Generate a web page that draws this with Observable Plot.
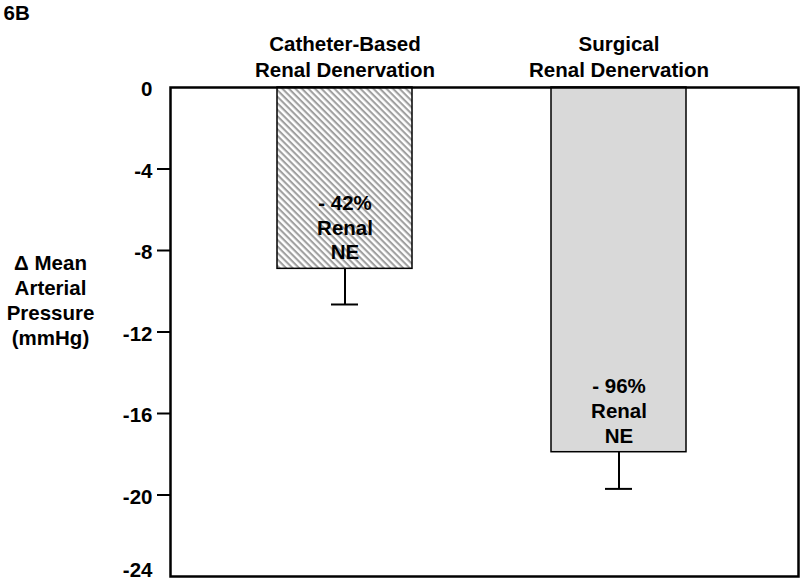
<!DOCTYPE html>
<html>
<head>
<meta charset="utf-8">
<script src="https://cdn.jsdelivr.net/npm/d3@7"></script>
<script src="https://cdn.jsdelivr.net/npm/@observablehq/plot@0.6"></script>
<style>
  html, body { margin: 0; padding: 0; background: white; }
  #chart { width: 800px; height: 581px; }
</style>
</head>
<body>
<div id="chart"></div>
<script>
const categories = ["Catheter-Based\nRenal Denervation", "Surgical\nRenal Denervation"];
const meanChange = [-8.9, -17.9];
const sem = [1.75, 1.8];
const barLabels = ["- 42%\nRenal\nNE", "- 96%\nRenal\nNE"];
const fills = ["url(#hatch)", "#d9d9d9"];
const yTicks = [0, -4, -8, -12, -16, -20];
const yTickLines = [-4, -8, -12, -16, -20];
const lastTick = [-24];
const panelLabel = "6B";
const yLabel = "Δ Mean\nArterial\nPressure\n(mmHg)";

const data = categories.map((c, i) => ({
  cat: c, value: meanChange[i], err: meanChange[i] - sem[i], label: barLabels[i], fill: fills[i]
}));

const font = "'Liberation Sans', Arial, Helvetica, sans-serif";

const chart = Plot.plot({
  width: 800,
  height: 581,
  marginTop: 87,
  marginLeft: 170,
  marginRight: 2,
  marginBottom: 5,
  style: { fontFamily: font, fontSize: "20px", fontWeight: "bold", background: "white", overflow: "visible", color: "black" },
  x: { domain: categories, range: [170, 792], padding: 0.509, paddingOuter: 0.3855, axis: null },
  y: { domain: [-24, 0], axis: null },
  marks: [
    Plot.barY(data, { x: "cat", y1: 0, y2: "value", fill: "fill", stroke: "black", strokeWidth: 1.5 }),
    Plot.ruleX(data, { x: "cat", y1: "value", y2: "err", stroke: "black", strokeWidth: 2 }),
    Plot.tickY(data, { x: "cat", y: "err", stroke: "black", strokeWidth: 2, insetLeft: 54, insetRight: 54 }),
    Plot.text(data, { x: "cat", y: "value", text: "label", dy: -42, lineAnchor: "middle", lineHeight: 1.2, fill: "black", fontSize: 20.5, fontWeight: "bold" }),
    Plot.text(data, { x: "cat", text: "cat", frameAnchor: "top", dy: -32, lineAnchor: "middle", lineHeight: 1.3, fill: "black", fontSize: 20.5, fontWeight: "bold" }),
    Plot.axisY({ ticks: yTickLines, tickSize: 13, tickPadding: 5, tickFormat: () => "", strokeWidth: 2 }),
    Plot.axisY({ ticks: yTicks, tickSize: 0, tickPadding: 18, tickFormat: d => String(d), fontSize: 20.5, fontWeight: "bold", dy: 2 }),
    Plot.axisY({ ticks: lastTick, tickSize: 0, tickPadding: 18, tickFormat: d => String(d), fontSize: 20.5, fontWeight: "bold", dy: -6 }),
    Plot.frame({ stroke: "black", strokeWidth: 2.5 }),
    Plot.text([yLabel], { frameAnchor: "left", dx: -120, dy: -33, textAnchor: "middle", lineAnchor: "middle", lineHeight: 1.22, fill: "black", fontSize: 20.5, fontWeight: "bold" }),
    Plot.text([panelLabel], { frameAnchor: "top-left", dx: -167, dy: -74, textAnchor: "start", lineAnchor: "middle", fill: "black", fontSize: 20.5, fontWeight: "bold" })
  ]
});

// hatch pattern definition
const svgSel = d3.select(chart);
const defs = svgSel.insert("defs", ":first-child");
const pat = defs.append("pattern")
  .attr("id", "hatch")
  .attr("patternUnits", "userSpaceOnUse")
  .attr("width", 4.6)
  .attr("height", 4.6)
  .attr("patternTransform", "rotate(45)");
pat.append("rect").attr("width", 4.6).attr("height", 4.6).attr("fill", "white");
pat.append("rect").attr("width", 4.6).attr("height", 2.1).attr("fill", "#a0a0a0");

document.getElementById("chart").appendChild(chart);
</script>
</body>
</html>
